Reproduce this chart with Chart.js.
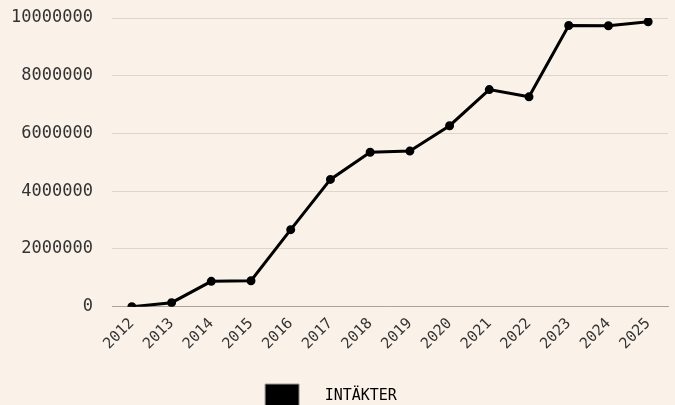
<!DOCTYPE html>
<html>
<head>
<meta charset="utf-8">
<script src="https://cdn.jsdelivr.net/npm/chart.js@4/dist/chart.umd.min.js"></script>
<style>
  html, body { margin: 0; padding: 0; background: #faf2e8; overflow: hidden; }
  #wrap { width: 675px; height: 418px; position: relative; }
</style>
</head>
<body>
<div id="wrap"><canvas id="lineChart"></canvas></div>
<script>
// År på x-axeln
const years = ['2012', '2013', '2014', '2015', '2016', '2017', '2018', '2019', '2020', '2021', '2022', '2023', '2024', '2025'];

// Intäkter per år
const revenue = [0, 140000, 880000, 900000, 2670000, 4410000, 5350000, 5390000, 6270000, 7520000, 7270000, 9740000, 9730000, 9870000];

// Serienamn
const seriesLabel = 'INTÄKTER';

const mono = "'DejaVu Sans Mono', 'Liberation Mono', monospace";

/**
 * Skapar linjediagrammet över intäkter.
 */
function createLineChart() {
    const ctx = document.getElementById('lineChart');

    const chartData = {
        labels: years,
        datasets: [{
            label: seriesLabel,
            data: revenue,
            borderColor: '#000',
            backgroundColor: '#000',
            borderWidth: 3,
            pointRadius: 3,
            pointBackgroundColor: '#000',
            pointBorderColor: '#000',
            tension: 0
        }]
    };

    new Chart(ctx, {
        type: 'line',
        data: chartData,
        options: {
            responsive: true,
            maintainAspectRatio: false,
            animation: false,
            layout: { padding: { top: 0, right: 6, left: 11 } },
            scales: {
                x: {
                    offset: true,
                    grid: { display: false },
                    border: { color: '#aaa59c' },
                    ticks: {
                        padding: 0,
                        color: '#333',
                        font: { family: mono, size: 15 },
                        minRotation: 45,
                        maxRotation: 45
                    }
                },
                y: {
                    min: 0,
                    max: 10000000,
                    grid: { color: '#ddd6cb', drawTicks: false },
                    border: { display: false },
                    ticks: {
                        stepSize: 2000000,
                        padding: 19,
                        color: '#333',
                        font: { family: mono, size: 17 },
                        callback: value => String(value)  // utan tusentalsavgränsare
                    },
                    // tick-padding räknas annars in dubbelt i bredd och höjd
                    afterFit: scale => {
                        scale.width = 101;
                        scale.paddingTop = 18;
                        scale.paddingBottom = 10;
                    }
                }
            },
            plugins: {
                legend: {
                    position: 'bottom',
                    labels: {
                        boxWidth: 34,
                        boxHeight: 24,
                        color: '#333',
                        padding: 31,
                        font: { family: mono, size: 15 },
                        generateLabels: chart => [{
                            text: '  ' + seriesLabel + '  ',
                            fillStyle: '#000',
                            strokeStyle: '#999',
                            lineWidth: 1,
                            datasetIndex: 0
                        }]
                    }
                },
                tooltip: { enabled: false }
            }
        }
    });
}

createLineChart();
</script>
</body>
</html>
